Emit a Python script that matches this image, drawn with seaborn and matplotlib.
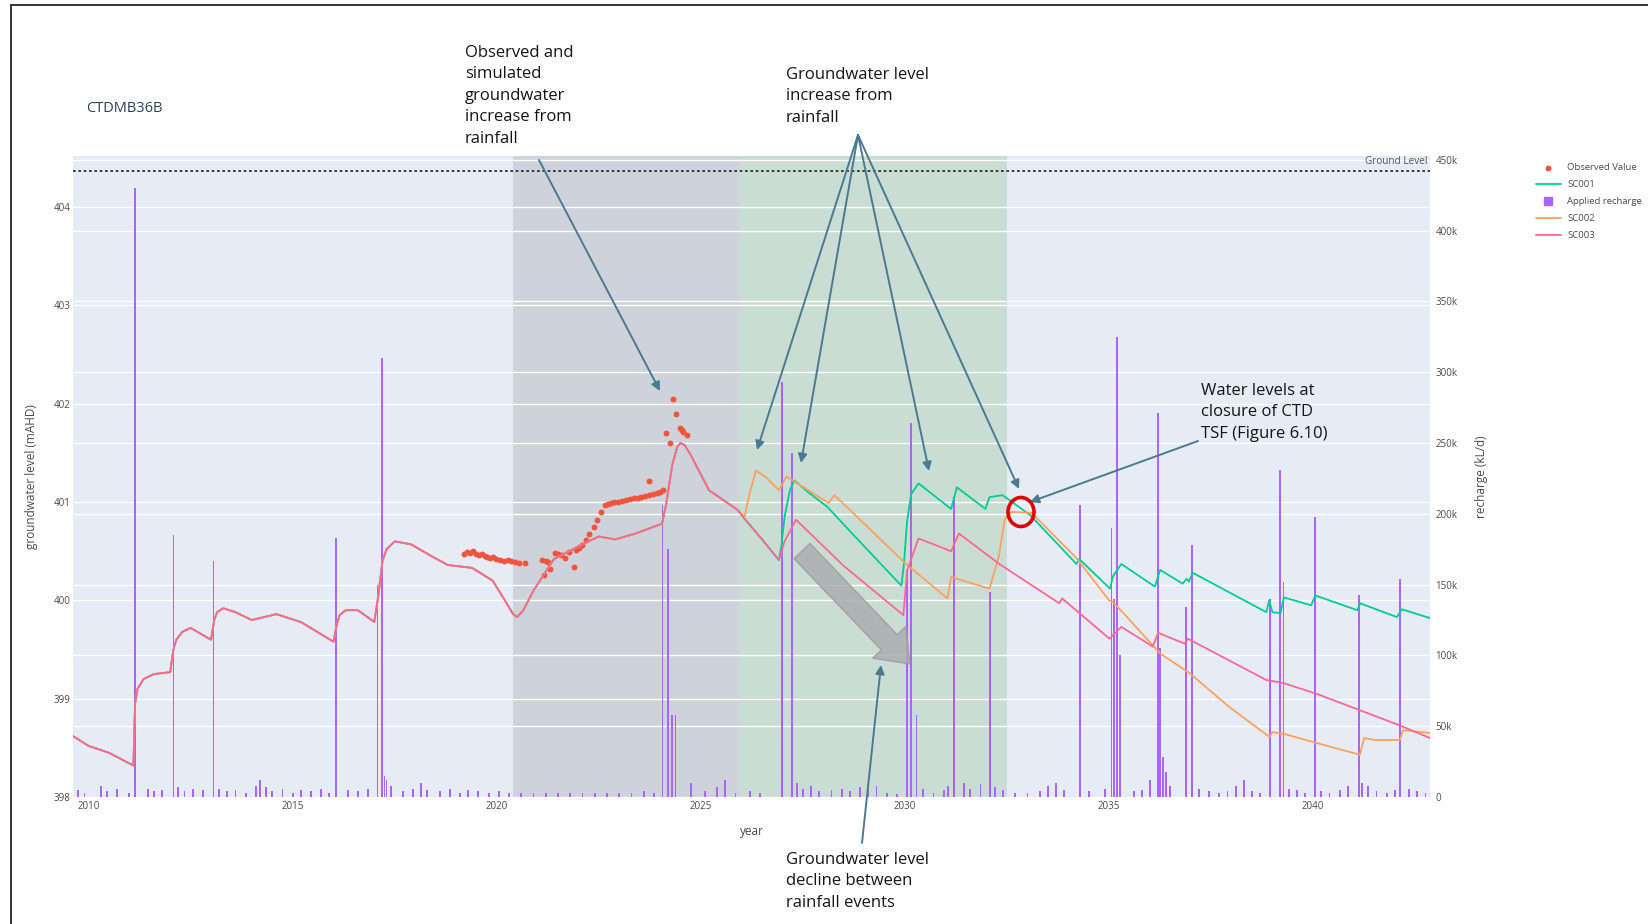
import matplotlib
matplotlib.use("Agg")
import matplotlib.pyplot as plt
import seaborn as sns
import numpy as np
import pandas as pd
from matplotlib.patches import FancyArrowPatch, Ellipse, FancyArrow
from matplotlib.lines import Line2D
from matplotlib.transforms import blended_transform_factory

# ---------------- data ----------------
hist_year = [2009.62, 2010.0, 2010.5, 2011.1, 2011.14, 2011.2, 2011.35, 2011.6, 2012.0, 2012.08,
             2012.15, 2012.3, 2012.5, 2013.0, 2013.08, 2013.15, 2013.3, 2013.6, 2014.0, 2014.6,
             2015.2, 2016.0, 2016.08, 2016.15, 2016.3, 2016.6, 2017.0, 2017.1, 2017.2, 2017.3,
             2017.5, 2017.9, 2018.4, 2018.8, 2019.4, 2019.9, 2020.2, 2020.4, 2020.5, 2020.65,
             2020.9, 2021.4, 2022.0, 2022.5, 2022.9, 2023.4, 2024.05, 2024.15, 2024.3, 2024.42,
             2024.5, 2024.6, 2024.75, 2025.2, 2025.9]
hist_level = [398.62, 398.52, 398.45, 398.32, 398.95, 399.1, 399.2, 399.25, 399.27, 399.5,
              399.6, 399.68, 399.72, 399.6, 399.8, 399.88, 399.92, 399.88, 399.8, 399.86,
              399.78, 399.58, 399.75, 399.85, 399.9, 399.9, 399.78, 400.05, 400.4, 400.52,
              400.6, 400.57, 400.45, 400.36, 400.33, 400.2, 400.0, 399.86, 399.83, 399.9,
              400.1, 400.42, 400.55, 400.65, 400.62, 400.68, 400.78, 400.98, 401.38, 401.56,
              401.6, 401.58, 401.48, 401.12, 400.92]

sc001_year = [2026.07, 2026.5, 2026.91, 2026.97, 2027.05, 2027.18, 2027.29, 2027.6, 2028.1, 2029.0,
              2029.91, 2029.97, 2030.05, 2030.15, 2030.33, 2031.13, 2031.27, 2031.97, 2032.07, 2032.39,
              2033.06, 2034.2, 2034.27, 2035.02, 2035.1, 2035.3, 2036.12, 2036.25, 2036.8, 2036.9,
              2036.95, 2037.05, 2038.85, 2038.92, 2039.0, 2039.2, 2039.28, 2039.95, 2040.05, 2041.08,
              2041.15, 2042.05, 2042.17, 2042.86]
sc001_level = [400.83, 400.62, 400.41, 400.55, 400.85, 401.12, 401.22, 401.11, 400.95, 400.55,
               400.15, 400.35, 400.8, 401.08, 401.19, 400.93, 401.15, 400.93, 401.05, 401.07,
               400.87, 400.37, 400.42, 400.12, 400.25, 400.37, 400.14, 400.31, 400.17, 400.22,
               400.19, 400.28, 399.88, 400.0, 399.88, 399.87, 400.03, 399.95, 400.05, 399.9,
               399.97, 399.83, 399.91, 399.82]

sc002_year = [2026.07, 2026.2, 2026.35, 2026.6, 2026.91, 2027.1, 2027.4, 2028.13, 2028.27, 2029.0,
              2030.0, 2031.04, 2031.13, 2031.5, 2032.07, 2032.3, 2032.44, 2032.6, 2033.1, 2034.2,
              2035.0, 2035.1, 2035.35, 2036.25, 2036.97, 2037.9, 2038.93, 2039.0, 2039.3, 2040.08,
              2041.14, 2041.25, 2041.5, 2042.12, 2042.2, 2042.86]
sc002_level = [400.85, 401.1, 401.32, 401.25, 401.12, 401.26, 401.18, 400.99, 401.07, 400.78,
               400.38, 400.02, 400.24, 400.19, 400.12, 400.45, 400.82, 400.9, 400.89, 400.43,
               400.0, 399.98, 399.87, 399.46, 399.26, 398.93, 398.61, 398.66, 398.64, 398.55,
               398.43, 398.6, 398.58, 398.58, 398.68, 398.65]

sc003_year = [2026.07, 2026.5, 2026.91, 2027.05, 2027.33, 2028.5, 2029.96, 2030.05, 2030.33, 2031.13,
              2031.32, 2032.31, 2033.78, 2033.85, 2035.01, 2035.3, 2036.07, 2036.2, 2036.85, 2036.93,
              2038.85, 2039.26, 2040.08, 2042.11, 2042.86]
sc003_level = [400.83, 400.62, 400.41, 400.6, 400.82, 400.35, 399.85, 400.3, 400.63, 400.5,
               400.68, 400.37, 399.97, 400.02, 399.61, 399.73, 399.53, 399.67, 399.56, 399.61,
               399.19, 399.16, 399.05, 398.73, 398.6]

obs_year = [2019.2, 2019.28, 2019.35, 2019.42, 2019.5, 2019.56, 2019.63, 2019.7, 2019.77, 2019.84,
            2019.91, 2019.98, 2020.08, 2020.17, 2020.27, 2020.36, 2020.45, 2020.55, 2020.7,
            2021.1, 2021.15, 2021.2, 2021.25, 2021.31, 2021.43, 2021.5, 2021.57, 2021.67, 2021.76,
            2021.9, 2021.95, 2022.02, 2022.09, 2022.18, 2022.27, 2022.37, 2022.46, 2022.56, 2022.65,
            2022.72, 2022.79, 2022.88, 2022.98, 2023.08, 2023.17, 2023.26, 2023.35, 2023.45, 2023.54,
            2023.64, 2023.73, 2023.73, 2023.83, 2023.92, 2024.0, 2024.06, 2024.15, 2024.24, 2024.32,
            2024.39, 2024.48, 2024.53, 2024.57, 2024.67]
obs_level = [400.47, 400.49, 400.48, 400.5, 400.47, 400.46, 400.47, 400.45, 400.44, 400.43,
             400.44, 400.42, 400.41, 400.4, 400.41, 400.4, 400.39, 400.38, 400.38,
             400.41, 400.26, 400.4, 400.39, 400.32, 400.48, 400.47, 400.46, 400.43, 400.49,
             400.34, 400.51, 400.53, 400.56, 400.61, 400.68, 400.75, 400.82, 400.9, 400.97,
             400.98, 400.99, 401.0, 401.0, 401.01, 401.02, 401.03, 401.04, 401.04, 401.05,
             401.06, 401.07, 401.21, 401.08, 401.09, 401.1, 401.12, 401.70, 401.60, 402.05,
             401.90, 401.75, 401.73, 401.71, 401.68]

recharge_year = [2009.75, 2009.9, 2010.3, 2010.45, 2010.7, 2011.0, 2011.13, 2011.45, 2011.6, 2011.8,
                 2012.08, 2012.2, 2012.35, 2012.55, 2012.8, 2013.06, 2013.2, 2013.4, 2013.6, 2013.85,
                 2014.1, 2014.2, 2014.35, 2014.5, 2014.75, 2015.0, 2015.2, 2015.45, 2015.7, 2015.9,
                 2016.07, 2016.35, 2016.6, 2016.85, 2017.08, 2017.18, 2017.25, 2017.3, 2017.4, 2017.7,
                 2017.95, 2018.15, 2018.3, 2018.6, 2018.85, 2019.1, 2019.3, 2019.55, 2019.8, 2020.05,
                 2020.3, 2020.6, 2020.9, 2021.2, 2021.5, 2021.8, 2022.1, 2022.4, 2022.7, 2023.0,
                 2023.3, 2023.6, 2023.85, 2024.06, 2024.2, 2024.3, 2024.38, 2024.75, 2025.1, 2025.4,
                 2025.6, 2025.85, 2026.2, 2026.45, 2026.99, 2027.24, 2027.35, 2027.5, 2027.7, 2027.9,
                 2028.2, 2028.45, 2028.65, 2028.9, 2029.1, 2029.3, 2029.55, 2029.8, 2030.05, 2030.14,
                 2030.28, 2030.45, 2030.7, 2030.95, 2031.05, 2031.2, 2031.45, 2031.6, 2031.85, 2032.08,
                 2032.2, 2032.4, 2032.7, 2033.0, 2033.3, 2033.5, 2033.7, 2033.9, 2034.28, 2034.5,
                 2034.9, 2035.06, 2035.12, 2035.2, 2035.26, 2035.6, 2035.8, 2036.0, 2036.2, 2036.25,
                 2036.32, 2036.4, 2036.5, 2036.88, 2037.03, 2037.2, 2037.45, 2037.7, 2037.9, 2038.1,
                 2038.3, 2038.5, 2038.7, 2038.95, 2039.19, 2039.27, 2039.4, 2039.6, 2039.8, 2040.04,
                 2040.2, 2040.4, 2040.65, 2040.85, 2041.12, 2041.2, 2041.35, 2041.55, 2041.8, 2042.0,
                 2042.12, 2042.35, 2042.55, 2042.75]
recharge_kld = [5e3, 3e3, 8e3, 4e3, 6e3, 3e3, 430e3, 6e3, 4e3, 5e3,
                185e3, 7e3, 4e3, 6e3, 5e3, 167e3, 6e3, 4e3, 5e3, 3e3,
                8e3, 12e3, 7e3, 4e3, 6e3, 3e3, 5e3, 4e3, 6e3, 3e3,
                183e3, 5e3, 4e3, 6e3, 150e3, 310e3, 15e3, 12e3, 8e3, 4e3,
                6e3, 10e3, 5e3, 4e3, 6e3, 3e3, 5e3, 4e3, 3e3, 4e3,
                3e3, 3e3, 3e3, 3e3, 3e3, 3e3, 3e3, 3e3, 3e3, 3e3,
                3e3, 4e3, 3e3, 206e3, 175e3, 58e3, 58e3, 10e3, 4e3, 7e3,
                12e3, 3e3, 4e3, 3e3, 293e3, 243e3, 10e3, 6e3, 8e3, 4e3,
                5e3, 6e3, 4e3, 7e3, 5e3, 8e3, 3e3, 2e3, 160e3, 264e3,
                58e3, 6e3, 3e3, 5e3, 8e3, 212e3, 10e3, 6e3, 9e3, 145e3,
                7e3, 5e3, 3e3, 3e3, 4e3, 8e3, 10e3, 5e3, 206e3, 4e3,
                6e3, 190e3, 140e3, 325e3, 100e3, 4e3, 5e3, 12e3, 271e3, 105e3,
                28e3, 18e3, 8e3, 134e3, 178e3, 6e3, 4e3, 3e3, 4e3, 8e3,
                12e3, 4e3, 3e3, 140e3, 231e3, 152e3, 6e3, 5e3, 3e3, 198e3,
                4e3, 3e3, 5e3, 8e3, 143e3, 10e3, 8e3, 4e3, 3e3, 5e3,
                154e3, 6e3, 4e3, 3e3]

ground_level = 404.37
gray_span = (2020.4, 2025.93)
green_span = (2025.93, 2032.5)
level_ticks = [398, 399, 400, 401, 402, 403, 404]
year_ticks = [2010, 2015, 2020, 2025, 2030, 2035, 2040]
recharge_ticks = [0, 50e3, 100e3, 150e3, 200e3, 250e3, 300e3, 350e3, 400e3, 450e3]
recharge_labels = ["0", "50k", "100k", "150k", "200k", "250k", "300k", "350k", "400k", "450k"]

# ---------------- styling ----------------
sns.set_theme(style="white")
plt.rcParams['font.family'] = ['Open Sans', 'DejaVu Sans']

W, H = 1648, 924
C_OBS, C_SC1, C_REC, C_SC2, C_SC3 = "#EF553B", "#00CC96", "#AB63FA", "#FFA15A", "#FF6692"
TICK_C = "#4a4a4a"

fig = plt.figure(figsize=(W / 100, H / 100), dpi=100)
fig.patch.set_facecolor("white")
L, R, T, B = 73, 1430, 156, 797
ax = fig.add_axes([L / W, 1 - B / H, (R - L) / W, (B - T) / H])
ax2 = ax.twinx()
ax.set_zorder(2)
ax2.set_zorder(1)
ax.patch.set_visible(False)
ax2.patch.set_visible(True)
ax2.patch.set_facecolor("#E5ECF6")

ax.set_xlim(2009.62, 2042.86)
ax.set_ylim(398, 404.52)
ax2.set_ylim(0, 452.7e3)

# shaded periods
ax2.axvspan(*gray_span, color="#CDD2DB", zorder=0.2, lw=0)
ax2.axvspan(*green_span, color="#C9DDD4", zorder=0.2, lw=0)

# grids (drawn in the background axes)
ax2.set_axisbelow(True)
ax2.grid(True, axis="both", color="white", lw=1.0)
tr = blended_transform_factory(ax2.transAxes, ax.transData)
for t in level_ticks[1:]:
    ax2.plot([0, 1], [t, t], transform=tr, color="white", lw=1.0, zorder=0.5)

# recharge bars
ax2.bar(recharge_year, recharge_kld, width=0.045, color=C_REC, lw=0, zorder=2,
        label="Applied recharge")

# scenario lines
sc1 = pd.DataFrame({"year": hist_year + sc001_year, "level": hist_level + sc001_level})
sc2 = pd.DataFrame({"year": hist_year + sc002_year, "level": hist_level + sc002_level})
sc3 = pd.DataFrame({"year": hist_year + sc003_year, "level": hist_level + sc003_level})
obs = pd.DataFrame({"year": obs_year, "level": obs_level})

sns.scatterplot(data=obs, x="year", y="level", ax=ax, color=C_OBS, s=18, linewidth=0,
                legend=False, zorder=1.9, label="Observed Value")
sns.lineplot(data=sc1, x="year", y="level", ax=ax, color=C_SC1, lw=1.3, sort=False,
             estimator=None, legend=False, label="SC001", zorder=2)
sns.lineplot(data=sc2, x="year", y="level", ax=ax, color=C_SC2, lw=1.3, sort=False,
             estimator=None, legend=False, label="SC002", zorder=2)
sns.lineplot(data=sc3, x="year", y="level", ax=ax, color=C_SC3, lw=1.3, sort=False,
             estimator=None, legend=False, label="SC003", zorder=2)

# ground level
ax.axhline(ground_level, color="#222222", lw=1.2, ls=(0, (1.6, 1.6)), zorder=3)
ax.text(0.998, ground_level + 0.04, "Ground Level", transform=blended_transform_factory(ax.transAxes, ax.transData),
        ha="right", va="bottom", fontsize=7.2, color="#555555")

# ticks
for a in (ax, ax2):
    for s in a.spines.values():
        s.set_visible(False)
ax.set_xticks(year_ticks)
ax.set_yticks(level_ticks)
ax.tick_params(axis="both", length=0, labelsize=7, colors=TICK_C, pad=2)
ax.tick_params(axis="x", pad=3)
ax2.set_yticks(recharge_ticks)
ax2.set_yticklabels(recharge_labels)
ax2.tick_params(axis="y", length=0, labelsize=7, colors=TICK_C, pad=4)

ax.set_xlabel("year", fontsize=8.5, color=TICK_C)
ax.xaxis.set_label_coords(0.5, -0.044)
ax.set_ylabel("groundwater level (mAHD)", fontsize=8.5, color=TICK_C)
ax.yaxis.set_label_coords(-0.026, 0.5)
ax2.set_ylabel("recharge (kL/d)", fontsize=8.5, color=TICK_C)
ax2.yaxis.set_label_coords(1.033, 0.5)

# title
fig.text(86 / W, 1 - 108 / H, "CTDMB36B", fontsize=10.5, color="#2a3f5f", ha="left", va="center")

# legend
h_obs = ax.collections[0]
lines = {l.get_label(): l for l in ax.lines}
h_rec = Line2D([], [], ls="none", marker="s", markersize=6, color=C_REC)
fig.legend([h_obs, lines["SC001"], h_rec, lines["SC002"], lines["SC003"]],
           ["Observed Value", "SC001", "Applied recharge", "SC002", "SC003"],
           loc="upper left", bbox_to_anchor=(1536 / W, 1 - 163 / H), frameon=False,
           fontsize=6.8, handlelength=2.6, handletextpad=0.7, labelspacing=0.85,
           borderpad=0, borderaxespad=0, labelcolor=TICK_C, markerscale=1.0)

# ---------------- annotations (figure pixel coordinates) ----------------
def fp(x, y):
    return (x / W, 1 - y / H)

ANN_C = "#4B7A8F"
ann_kw = dict(fontsize=12, color="#151515", ha="left", va="top", linespacing=1.45, zorder=10)
fig.text(*fp(465, 45), "Observed and\nsimulated\ngroundwater\nincrease from\nrainfall", **ann_kw)
fig.text(*fp(786, 67), "Groundwater level\nincrease from\nrainfall", **ann_kw)
fig.text(*fp(1201, 383), "Water levels at\nclosure of CTD\nTSF (Figure 6.10)", **ann_kw)
fig.text(*fp(786, 852), "Groundwater level\ndecline between\nrainfall events", **ann_kw)

def arrow(p0, p1):
    fig.add_artist(FancyArrowPatch(fp(*p0), fp(*p1), transform=fig.transFigure,
                                   arrowstyle="-|>", mutation_scale=13, color=ANN_C,
                                   lw=1.4, shrinkA=0, shrinkB=0, zorder=10))

arrow((539, 160), (660, 391))
for tgt in [(757, 450), (801, 463), (929, 471), (1019, 489)]:
    arrow((858, 135), tgt)
arrow((1198, 441), (1030, 502))
arrow((862, 843), (881, 665))

# red circle
fig.add_artist(Ellipse((1021 / 100, (H - 512) / 100), 26 / 100, 29 / 100,
                       transform=fig.dpi_scale_trans, fill=False, ec="#E00000", lw=2.6, zorder=10))

# gray block arrow
x0, y0, x1, y1 = 802, 551, 910, 664
fig.add_artist(FancyArrow(x0 / 100, (H - y0) / 100, (x1 - x0) / 100, -(y1 - y0) / 100,
                          width=22 / 100, head_width=46 / 100, head_length=30 / 100,
                          length_includes_head=True, transform=fig.dpi_scale_trans,
                          fc="#ABADAF", ec="#9A9D9F", lw=1.0, alpha=0.85, zorder=9))

# page frame
fig.add_artist(Line2D([10.5 / W, 10.5 / W], [0, 1 - 5 / H], transform=fig.transFigure, color="#333333", lw=1.4, zorder=10))
fig.add_artist(Line2D([10.5 / W, 1], [1 - 5 / H, 1 - 5 / H], transform=fig.transFigure, color="#333333", lw=1.4, zorder=10))

fig.savefig("out.png", dpi=100, facecolor="white")
